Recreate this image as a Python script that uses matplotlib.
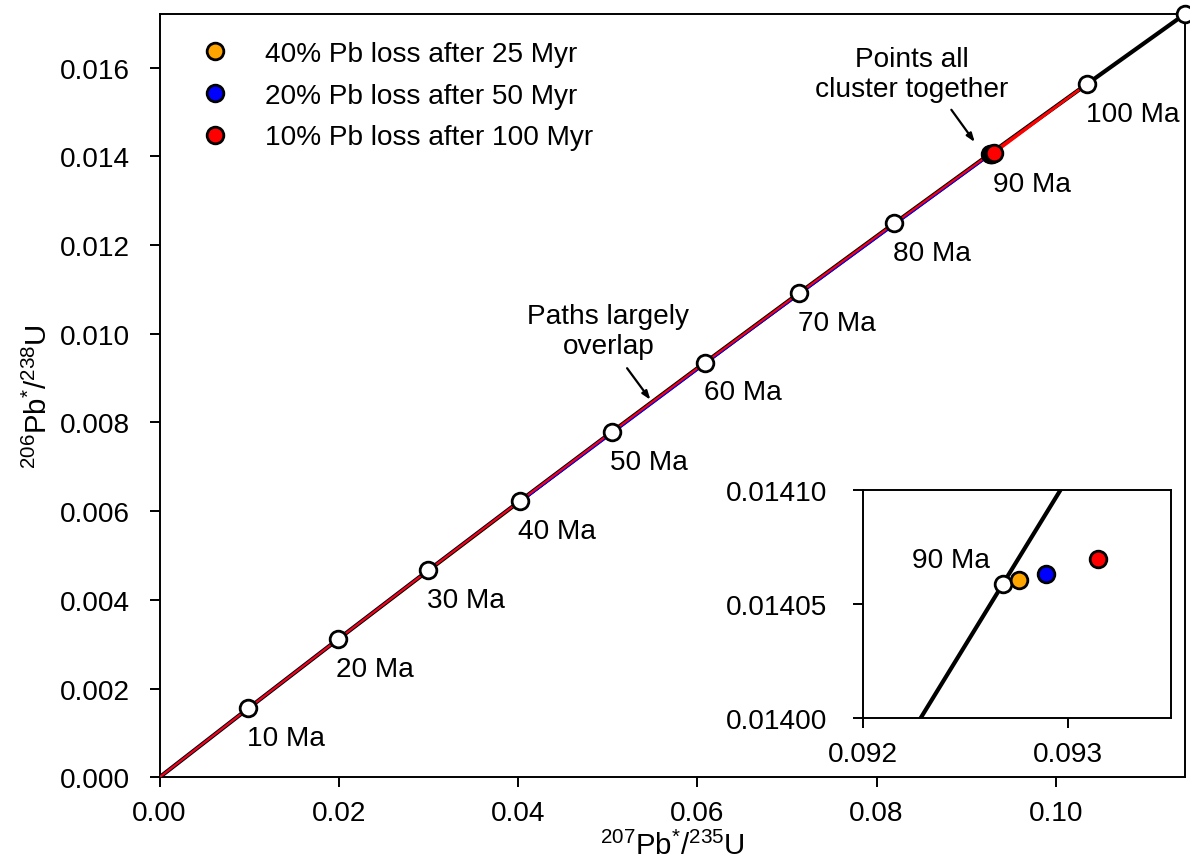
import matplotlib
matplotlib.use('Agg')
import matplotlib.pyplot as plt
from matplotlib.lines import Line2D
from matplotlib.ticker import FormatStrFormatter

plt.rcParams['font.family'] = ['Liberation Sans', 'DejaVu Sans']
plt.rcParams['mathtext.default'] = 'regular'
FS = 20.2

# ---------------- data ----------------
ages = [0, 10, 20, 30, 40, 50, 60, 70, 80, 90, 100, 110]
conc_x = [0.0, 0.009897, 0.019892, 0.029986, 0.040180, 0.050475, 0.060872,
          0.071371, 0.081975, 0.092683, 0.103498, 0.114420]
conc_y = [0.0, 0.0015525, 0.0031073, 0.0046646, 0.0062243, 0.0077864,
          0.0093510, 0.010918, 0.012487, 0.014059, 0.015633, 0.017210]
labelled_ages = [10, 20, 30, 40, 50, 60, 70, 80, 90, 100]

# Pb-loss paths: concordia up to loss time, then extra vertices after the loss
orange_extra_x = [0.024927, 0.014956, 0.053145, 0.092762]
orange_extra_y = [0.0038857, 0.0023314, 0.008180, 0.0140607]
orange_upto = 20
blue_extra_x = [0.040380, 0.066314, 0.092893]
blue_extra_y = [0.006229, 0.010139, 0.0140634]
blue_upto = 50
red_extra_x = [0.093146]
red_extra_y = [0.0140697]
red_upto = 100

legend_labels = ['40% Pb loss after 25 Myr', '20% Pb loss after 50 Myr',
                 '10% Pb loss after 100 Myr']
final_x = [0.092762, 0.092893, 0.093146]
final_y = [0.0140607, 0.0140634, 0.0140697]
final_colors = ['#FFA500', '#0000FF', '#FF0000']

inset_line_x = [0.092145, 0.092683, 0.093221]
inset_line_y = [0.013980, 0.014059, 0.014138]
inset_white_x = [0.092683]
inset_white_y = [0.014059]

xticks = [0.00, 0.02, 0.04, 0.06, 0.08, 0.10]
yticks = [0.000, 0.002, 0.004, 0.006, 0.008, 0.010, 0.012, 0.014, 0.016]
inset_xticks = [0.092, 0.093]
inset_yticks = [0.01400, 0.01405, 0.01410]

# ---------------- figure ----------------
W, H = 1190, 862
fig = plt.figure(figsize=(W / 100, H / 100), dpi=100)
L, R, T, B = 159.5, 1185, 15, 778.3
ax = fig.add_axes([L / W, (H - B) / H, (R - L) / W, (B - T) / H])

def path(upto, ex, ey):
    n = ages.index(upto) + 1
    return conc_x[:n] + ex, conc_y[:n] + ey

ox, oy = path(orange_upto, orange_extra_x, orange_extra_y)
bx, by = path(blue_upto, blue_extra_x, blue_extra_y)
rx, ry = path(red_upto, red_extra_x, red_extra_y)
ax.plot(ox, oy, color=final_colors[0], lw=1.5, zorder=1)
ax.plot(conc_x, conc_y, color='black', lw=3.0, zorder=2, solid_capstyle='butt')
ax.plot(bx, by, color=final_colors[1], lw=1.5, zorder=4)
ax.plot(rx, ry, color=final_colors[2], lw=1.5, zorder=5)

ax.plot(conc_x[1:], conc_y[1:], ls='none', marker='o', ms=12, mfc='white',
        mec='black', mew=2, zorder=6, clip_on=False)
for i in range(3):
    ax.plot([final_x[i]], [final_y[i]], ls='none', marker='o', ms=12,
            mfc=final_colors[i], mec='black', mew=2, zorder=7 + i)

for a in labelled_ages:
    i = ages.index(a)
    dx = 2 if a == 90 else -1
    ax.annotate(f'{a} Ma', xy=(conc_x[i], conc_y[i]), xytext=(dx, -26.5),
                textcoords='offset points', ha='left', va='baseline', fontsize=FS)

ax.set_xlim(0, conc_x[-1])
ax.set_ylim(0, conc_y[-1])
ax.set_xticks(xticks)
ax.set_yticks(yticks)
ax.xaxis.set_major_formatter(FormatStrFormatter('%.2f'))
ax.yaxis.set_major_formatter(FormatStrFormatter('%.3f'))
ax.tick_params(axis='both', direction='out', length=7.5, width=1.4, labelsize=FS)
ax.tick_params(axis='x', pad=9)
ax.tick_params(axis='y', pad=14)
for s in ax.spines.values():
    s.set_linewidth(1.4)

ax.set_xlabel(r'$^{207}$Pb$^{*}$/$^{235}$U', fontsize=FS + 1, labelpad=3)
ax.set_ylabel(r'$^{206}$Pb$^{*}$/$^{238}$U', fontsize=FS + 1, labelpad=5)

# annotations
ax.text(0.05008, 0.010693, 'Paths largely\noverlap', ha='center', va='top',
        fontsize=FS, linespacing=1.22)
ax.annotate('', xy=(0.05477, 0.008511), xytext=(0.05217, 0.009224),
            arrowprops=dict(arrowstyle='-|>,head_length=0.5,head_width=0.18',
                            color='black', lw=1.6, shrinkA=0, shrinkB=0))
ax.text(0.08391, 0.016493, 'Points all\ncluster together', ha='center', va='top',
        fontsize=FS, linespacing=1.22)
ax.annotate('', xy=(0.09096, 0.014322), xytext=(0.08835, 0.015051),
            arrowprops=dict(arrowstyle='-|>,head_length=0.5,head_width=0.18',
                            color='black', lw=1.6, shrinkA=0, shrinkB=0))

handles = [Line2D([], [], ls='none', marker='o', ms=12, mfc=c, mec='black', mew=2)
           for c in final_colors]
ax.legend(handles, legend_labels, loc='upper left', frameon=False, fontsize=FS,
          handlelength=1.0, handletextpad=1.3, borderaxespad=0, borderpad=0,
          labelspacing=0.56, numpoints=1,
          bbox_to_anchor=(41.3 / (R - L), 1 - 27.0 / (B - T)))

# ---------------- inset ----------------
iL, iR, iT, iB = 862.7, 1171, 491, 719.3
ax2 = fig.add_axes([iL / W, (H - iB) / H, (iR - iL) / W, (iB - iT) / H])
ax2.plot(inset_line_x, inset_line_y, color='black', lw=3.0, zorder=2)
ax2.plot(inset_white_x, inset_white_y, ls='none', marker='o', ms=12, mfc='white',
         mec='black', mew=2, zorder=6)
for i in range(3):
    ax2.plot([final_x[i]], [final_y[i]], ls='none', marker='o', ms=12,
             mfc=final_colors[i], mec='black', mew=2, zorder=7 + i)
ax2.text(0.092621, 0.0140662, '90 Ma', ha='right', va='baseline', fontsize=FS)
ax2.set_xlim(0.092, 0.0935)
ax2.set_ylim(0.01400, 0.01410)
ax2.set_xticks(inset_xticks)
ax2.set_yticks(inset_yticks)
ax2.xaxis.set_major_formatter(FormatStrFormatter('%.3f'))
ax2.yaxis.set_major_formatter(FormatStrFormatter('%.5f'))
ax2.tick_params(axis='both', direction='out', length=7.5, width=1.4, labelsize=FS)
ax2.tick_params(axis='x', pad=9)
ax2.tick_params(axis='y', pad=18)
for s in ax2.spines.values():
    s.set_linewidth(1.4)

fig.savefig('out.png', dpi=100)
